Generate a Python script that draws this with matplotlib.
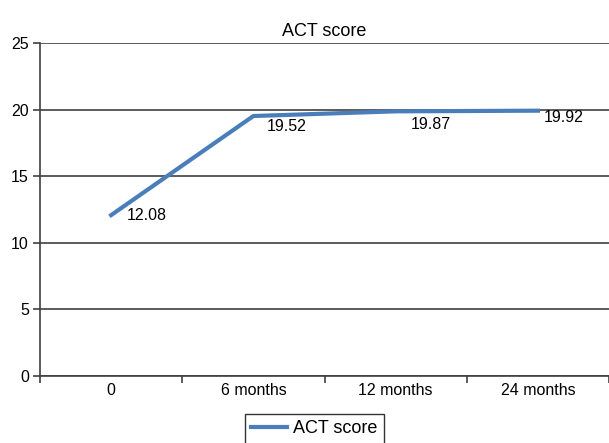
import matplotlib.pyplot as plt
import numpy as np

plt.rcParams['font.family'] = ['Liberation Sans', 'DejaVu Sans']

categories = ['0', '6 months', '12 months', '24 months']
act_score = [12.08, 19.52, 19.87, 19.92]

# where each value label sits relative to its point (pixels)
label_offsets = [(16, 0), (13, -10), (15, -13), (6, -7)]

fig = plt.figure(figsize=(6.09, 4.43), dpi=100)
ax = fig.add_axes([0.0657, 0.1512, 0.9343, 0.7517])

x = np.arange(len(categories))
ax.plot(x, act_score, color='#4a7ebb', linewidth=3, label='ACT score', zorder=3)
for xi, v, off in zip(x, act_score, label_offsets):
    ax.annotate(f'{v:.2f}', (xi, v), xytext=off, textcoords='offset pixels',
                fontsize=11.5, ha='left', va='center')

ax.set_xlim(-0.5, len(categories) - 0.5)
ax.set_ylim(0, 25)
ax.set_yticks(range(0, 26, 5))
ax.yaxis.grid(True, color='#404040', linewidth=1.2)
ax.set_axisbelow(True)

# category labels centred, tick marks on category boundaries
ax.set_xticks(x)
ax.set_xticklabels(categories)
ax.set_xticks(np.arange(-0.5, len(categories), 1), minor=True)
ax.tick_params(axis='x', which='major', length=0, labelsize=11.5, pad=5)
ax.tick_params(axis='x', which='minor', length=5, width=1.2, color='#404040')
ax.tick_params(axis='y', length=5, width=1.2, color='#404040', labelsize=11.5, pad=3)

for side in ['top', 'right']:
    ax.spines[side].set_visible(False)
for side in ['left', 'bottom']:
    ax.spines[side].set_color('#404040')
    ax.spines[side].set_linewidth(1.2)

ax.set_title('ACT score', fontsize=13, pad=5)

leg = fig.legend(loc='upper center', bbox_to_anchor=(0.516, 29 / 443), fontsize=13,
                 frameon=True, fancybox=False, edgecolor='black', borderaxespad=0,
                 handlelength=2.0, borderpad=0.35, handletextpad=0.3)
leg.get_frame().set_linewidth(1.0)

fig.savefig('out.png', dpi=100)
